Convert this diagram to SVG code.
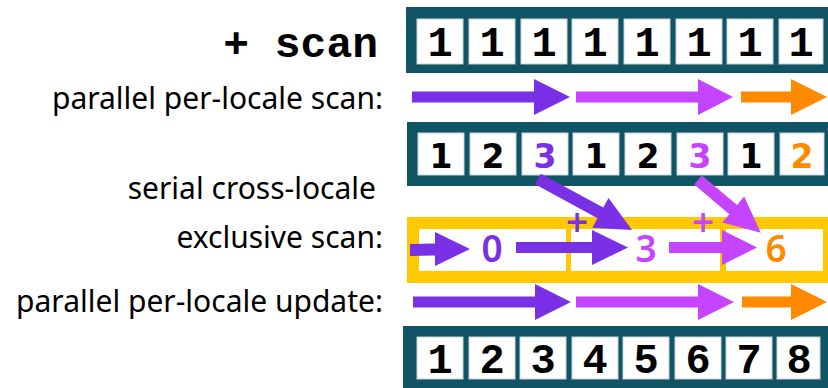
<svg xmlns="http://www.w3.org/2000/svg" width="828" height="388" viewBox="0 0 828 388">
<style>
.box{fill:#105466}
.cell{fill:#ffffff;stroke:#c8d4d8;stroke-width:1}
.ybox{fill:#ffc800}
.mono{font-family:"Liberation Mono","Courier New",monospace;font-weight:bold;font-size:42px;fill:#000;text-anchor:middle}
.sans{font-family:"DejaVu Sans",sans-serif;font-weight:bold;font-size:33px;text-anchor:middle}
.big{font-family:"Noto Sans","Open Sans",sans-serif;font-weight:600;font-size:37px;text-anchor:middle}
.lbl{font-family:"Noto Sans","Open Sans",sans-serif;font-size:30px;fill:#000;text-anchor:end}
.p{fill:#7a31e6}
.m{fill:#c544ff}
.o{fill:#ff8a00}
</style>

<g id="title"><text class="mono" x="378" y="57" style="font-size:43px;text-anchor:end">+ scan</text></g>
<g id="lbl1"><text class="lbl" x="383" y="109">parallel per-locale scan:</text></g>
<g id="lbl2"><text class="lbl" x="376" y="199">serial cross-locale</text></g>
<g id="lbl3"><text class="lbl" x="383" y="248">exclusive scan:</text></g>
<g id="lbl4"><text class="lbl" x="383" y="312">parallel per-locale update:</text></g>

<g id="row1">
<rect class="box" x="406" y="7" width="422" height="66"/>
<rect class="cell" x="417" y="19" width="46" height="45"/>
<rect class="cell" x="469" y="19" width="46" height="45"/>
<rect class="cell" x="521" y="19" width="46" height="45"/>
<rect class="cell" x="572" y="19" width="46" height="45"/>
<rect class="cell" x="624" y="19" width="46" height="45"/>
<rect class="cell" x="676" y="19" width="46" height="45"/>
<rect class="cell" x="727" y="19" width="46" height="45"/>
<rect class="cell" x="779" y="19" width="44" height="45"/>
<text class="mono" x="440" y="56">1</text>
<text class="mono" x="492" y="56">1</text>
<text class="mono" x="544" y="56">1</text>
<text class="mono" x="595" y="56">1</text>
<text class="mono" x="647" y="56">1</text>
<text class="mono" x="699" y="56">1</text>
<text class="mono" x="750" y="56">1</text>
<text class="mono" x="801" y="56">1</text>
</g>

<g id="row2">
<rect class="box" x="407" y="122" width="421" height="64"/>
<rect class="cell" x="418" y="133" width="46" height="42"/>
<rect class="cell" x="470" y="133" width="46" height="42"/>
<rect class="cell" x="522" y="133" width="46" height="42"/>
<rect class="cell" x="573" y="133" width="46" height="42"/>
<rect class="cell" x="625" y="133" width="46" height="42"/>
<rect class="cell" x="677" y="133" width="46" height="42"/>
<rect class="cell" x="728" y="133" width="46" height="42"/>
<rect class="cell" x="780" y="133" width="44" height="42"/>
<text class="sans" x="441" y="168">1</text>
<text class="sans" x="493" y="168">2</text>
<text class="sans p" x="545" y="168">3</text>
<text class="sans" x="596" y="168">1</text>
<text class="sans" x="648" y="168">2</text>
<text class="sans m" x="700" y="168">3</text>
<text class="sans" x="751" y="168">1</text>
<text class="sans o" x="802" y="168">2</text>
</g>

<g id="row3">
<rect class="ybox" x="407" y="217" width="421" height="66"/>
<rect class="cell" x="419" y="229" width="147" height="42" style="stroke:none"/>
<rect class="cell" x="571" y="229" width="149" height="42" style="stroke:none"/>
<rect class="cell" x="726" y="229" width="97" height="42" style="stroke:none"/>
<text class="big p" x="492" y="262">0</text>
<text class="big m" x="646" y="262">3</text>
<text class="big o" x="776" y="262">6</text>
<text class="sans p" x="577" y="232" style="font-size:30px">+</text>
<text class="sans m" x="703" y="232" style="font-size:30px">+</text>
</g>

<g id="row4">
<rect class="box" x="403" y="326" width="425" height="62"/>
<rect class="cell" x="417" y="337" width="46" height="42"/>
<rect class="cell" x="469" y="337" width="46" height="42"/>
<rect class="cell" x="520" y="337" width="46" height="42"/>
<rect class="cell" x="572" y="337" width="46" height="42"/>
<rect class="cell" x="623" y="337" width="46" height="42"/>
<rect class="cell" x="675" y="337" width="46" height="42"/>
<rect class="cell" x="726" y="337" width="46" height="42"/>
<rect class="cell" x="777" y="337" width="43" height="42"/>
<text class="mono" x="440" y="373">1</text>
<text class="mono" x="492" y="373">2</text>
<text class="mono" x="543" y="373">3</text>
<text class="mono" x="595" y="373">4</text>
<text class="mono" x="646" y="373">5</text>
<text class="mono" x="698" y="373">6</text>
<text class="mono" x="749" y="373">7</text>
<text class="mono" x="799" y="373">8</text>
</g>

<g id="connectors">
<polygon class="p" points="412,91.5 534,91.5 534,79 570,97 534,115 534,102.5 412,102.5"/>
<polygon class="m" points="576,91.5 698,91.5 698,79 733,97 698,115 698,102.5 576,102.5"/>
<polygon class="o" points="741,91.5 791,91.5 791,79 827,97 791,115 791,102.5 741,102.5"/>

<polygon class="p" points="413,296.5 535,296.5 535,284 571,302 535,320 535,307.5 413,307.5"/>
<polygon class="m" points="576,296.5 698,296.5 698,284 734,302 698,320 698,307.5 576,307.5"/>
<polygon class="o" points="742,296.5 791,296.5 791,284 827,302 791,320 791,307.5 742,307.5"/>

<polygon class="p" points="410,244 435,243.5 435,232 470,249 435,266 435,255.5 410,256"/>
<polygon class="p" points="516,242 592,242 592,230 628,247.5 592,265 592,253 516,253"/>
<polygon class="m" points="669,242 722,242 722,230 757,247.5 722,265 722,253 669,253"/>

<polygon class="p" transform="translate(538,179) rotate(28.5)" points="0,-6 71,-6 71,-17 107,0 71,17 71,6 0,6"/>
<polygon class="m" transform="translate(698,180) rotate(40)" points="0,-6 46,-6 46,-17 82,0 46,17 46,6 0,6"/>
</g>
</svg>
